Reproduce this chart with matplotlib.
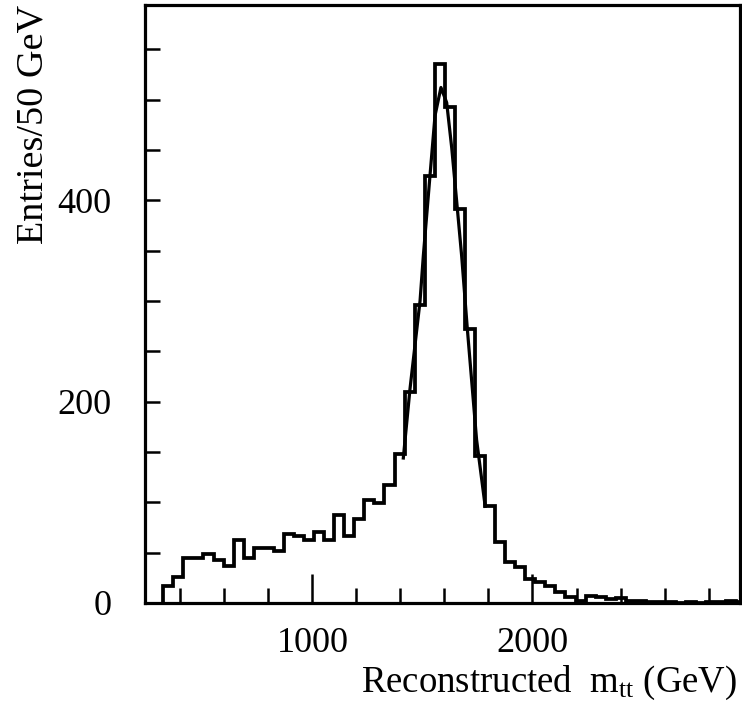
import numpy as np
import matplotlib
matplotlib.use("Agg")
import matplotlib.pyplot as plt
from matplotlib.ticker import MultipleLocator, FixedLocator

plt.rcParams["font.family"] = "Liberation Serif"
plt.rcParams["mathtext.fontset"] = "stix"

# histogram, entries per bin
counts = np.array([17, 26, 45, 45, 49, 43, 37, 63, 45, 55,
                   55, 52, 69, 67, 63, 71, 63, 87, 67, 83,
                   102, 99, 117, 148, 210, 296, 424, 535, 493, 391,
                   272, 146, 96, 61, 41, 36, 24, 21, 17, 11,
                   6, 2, 7, 6, 4, 5, 2, 2, 1, 1,
                   1, 0, 1, 0, 1, 1, 2, 1, 1])
bin_lo = 322.0      # first bin edge (GeV)
bin_w = 45.7        # bin width as drawn (GeV)
edges = bin_lo + bin_w*np.arange(len(counts) + 1)

# fitted curve through the peak
fit_x = [1413, 1443, 1489, 1504, 1534, 1557, 1584, 1610, 1633, 1655, 1678, 1704, 1746, 1785]
fit_y = [144, 212, 300, 345, 424, 484, 512, 497, 452, 400, 345, 272, 162, 96]

fig = plt.figure(figsize=(7.42, 7.05), dpi=100)
ax = fig.add_axes([0.1954, 0.1447, 0.8019, 0.8483])

ax.stairs(counts, edges, baseline=0, color="black", lw=2.7)
ax.plot(fit_x, fit_y, color="black", lw=2.3)

ax.set_xlim(239, 2943)
ax.set_ylim(0, 594)

# ticks, all pointing in
ax.xaxis.set_major_locator(FixedLocator([1000, 2000]))
ax.xaxis.set_minor_locator(MultipleLocator(200))
ax.yaxis.set_major_locator(MultipleLocator(200))
ax.yaxis.set_minor_locator(MultipleLocator(50))
ax.tick_params(axis="x", which="major", direction="in", length=21, width=1.8,
               pad=17, labelsize=26, top=False)
ax.tick_params(axis="x", which="minor", direction="in", length=11, width=1.8, top=False)
ax.tick_params(axis="y", which="both", direction="in", length=11, width=1.8,
               pad=24, labelsize=26, right=False)

for s in ax.spines.values():
    s.set_linewidth(2.3)

ax.set_ylabel("Entries/50 GeV", fontsize=27.5, loc="top", labelpad=5)
ax.set_xlabel(r"Reconstructed  $\mathregular{m_{tt}}$ (GeV)", fontsize=26.5,
              loc="right", labelpad=3)
ax.xaxis.label.set_x(0.996)

fig.savefig("out.png", dpi=100)
